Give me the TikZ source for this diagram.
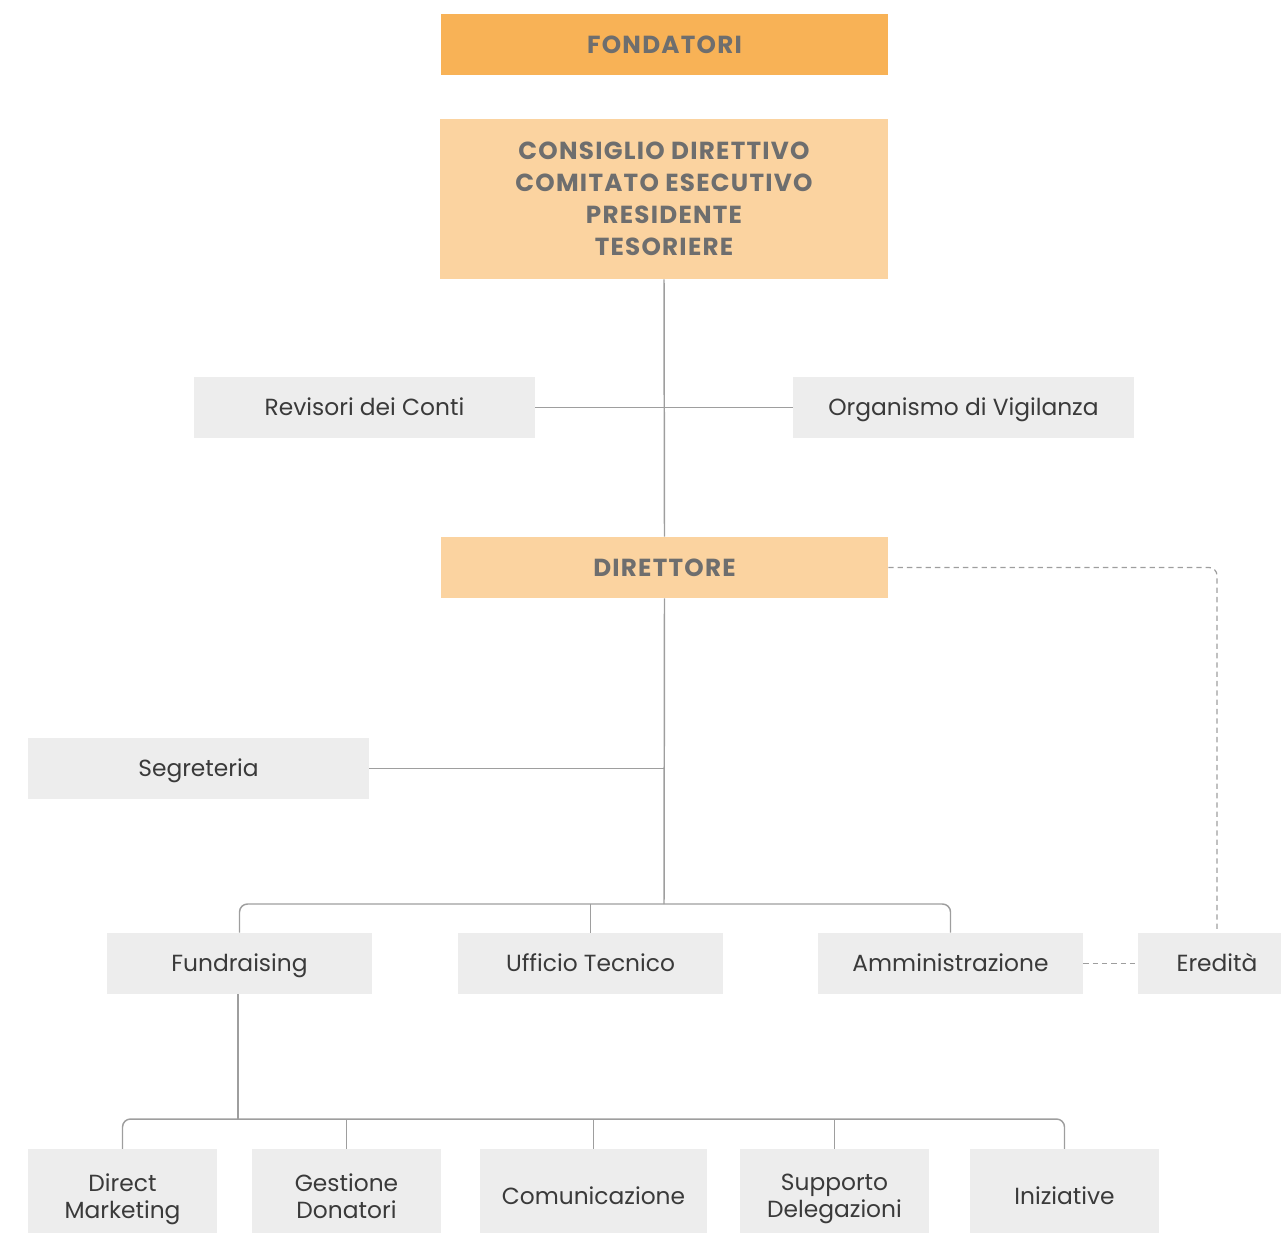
\documentclass[tikz,border=0pt]{standalone}
\usepackage{fontspec}
\setmainfont{Poppins}
\newfontfamily\capsfont[LetterSpace=5]{Poppins Bold}
\definecolor{orangeA}{HTML}{F8B256}
\definecolor{orangeB}{HTML}{FBD3A0}
\definecolor{boxgray}{HTML}{EDEDED}
\definecolor{txtdark}{HTML}{3A3A3A}
\definecolor{txtcaps}{HTML}{6E6E6E}
\definecolor{linegray}{HTML}{9E9E9E}
\begin{document}
\begin{tikzpicture}[x=0.75pt,y=-0.75pt,
  base/.style={rectangle,inner sep=0pt,align=center,anchor=center},
  topbox/.style={base,fill=#1,text=txtcaps,font=\capsfont\fontsize{18.5}{24}\selectfont},
  graybox/.style={base,fill=boxgray,text=txtdark,font=\fontsize{17.5}{20}\selectfont},
  oneline/.style={text height=12.2pt,text depth=0pt},
  multiline/.style={text depth=0pt},
  capline/.style={text height=13pt,text depth=0pt},
  conn/.style={draw=linegray,line width=1.1pt,rounded corners=6pt},
  dashconn/.style={draw=linegray,line width=0.9pt,dash pattern=on 4pt off 3pt,rounded corners=6pt}
]
\useasboundingbox (0,0) rectangle (1281,1232);
% top
\node[topbox=orangeA,capline,minimum width=447*0.75pt,minimum height=61*0.75pt] (fond) at (664.5,44.5) {FONDATORI};
\node[topbox=orangeB,multiline,minimum width=448*0.75pt,minimum height=160*0.75pt] (cons) at (664,199) {CONSIGLIO DIRETTIVO\\COMITATO ESECUTIVO\\PRESIDENTE\\TESORIERE};
\node[graybox,oneline,minimum width=341*0.75pt,minimum height=61*0.75pt] (rev) at (364.5,407.5) {Revisori dei Conti};
\node[graybox,oneline,minimum width=341*0.75pt,minimum height=61*0.75pt] (org) at (963.5,407.5) {Organismo di Vigilanza};
\node[topbox=orangeB,capline,minimum width=447*0.75pt,minimum height=61*0.75pt] (dir) at (664.5,567.5) {DIRETTORE};
\node[graybox,oneline,minimum width=341*0.75pt,minimum height=61*0.75pt] (seg) at (198.5,768.5) {Segreteria};
% level 2
\node[graybox,oneline,minimum width=265*0.75pt,minimum height=61*0.75pt] (fund) at (239.5,963.5) {Fundraising};
\node[graybox,oneline,minimum width=265*0.75pt,minimum height=61*0.75pt] (uff) at (590.5,963.5) {Ufficio Tecnico};
\node[graybox,oneline,minimum width=265*0.75pt,minimum height=61*0.75pt] (adm) at (950.5,963.5) {Amministrazione};
\node[graybox,oneline,minimum width=158*0.75pt,minimum height=61*0.75pt] (ere) at (1217,963.5) {Eredità};
% level 3
\node[graybox,multiline,minimum width=189*0.75pt,minimum height=94*0.75pt] (dm) at (122.5,1196) {Direct\\Marketing};
\node[graybox,multiline,minimum width=189*0.75pt,minimum height=94*0.75pt] (gd) at (346.5,1196) {Gestione\\Donatori};
\node[graybox,oneline,minimum width=227*0.75pt,minimum height=94*0.75pt] (com) at (593.5,1196) {Comunicazione};
\node[graybox,multiline,minimum width=189*0.75pt,minimum height=94*0.75pt] (sd) at (834.5,1196) {Supporto\\Delegazioni};
\node[graybox,oneline,minimum width=189*0.75pt,minimum height=94*0.75pt] (ini) at (1064.5,1196) {Iniziative};
% coordinates
\coordinate (b1) at (664,904);
\coordinate (b2) at (238,1119);
% connectors
\draw[conn] (cons.south) -- (dir.north);
\draw[conn] (rev.east) -- (org.west);
\draw[conn] (dir.south) -- (b1);
\draw[conn] (seg.east) -- (seg.east -| dir.south);
\draw[conn] (fund.north) |- (b1) -| (adm.north);
\draw[conn] (uff.north) -- (uff.north |- b1);
\draw[conn] (fund.south -| b2) -- (b2);
\draw[conn] (dm.north) |- (b2) -| (ini.north);
\draw[conn] (gd.north) -- (gd.north |- b2);
\draw[conn] (com.north) -- (com.north |- b2);
\draw[conn] (sd.north) -- (sd.north |- b2);
\draw[dashconn] (dir.east) -| (ere.north);
\draw[dashconn] (adm.east) -- (ere.west);
\end{tikzpicture}
\end{document}
